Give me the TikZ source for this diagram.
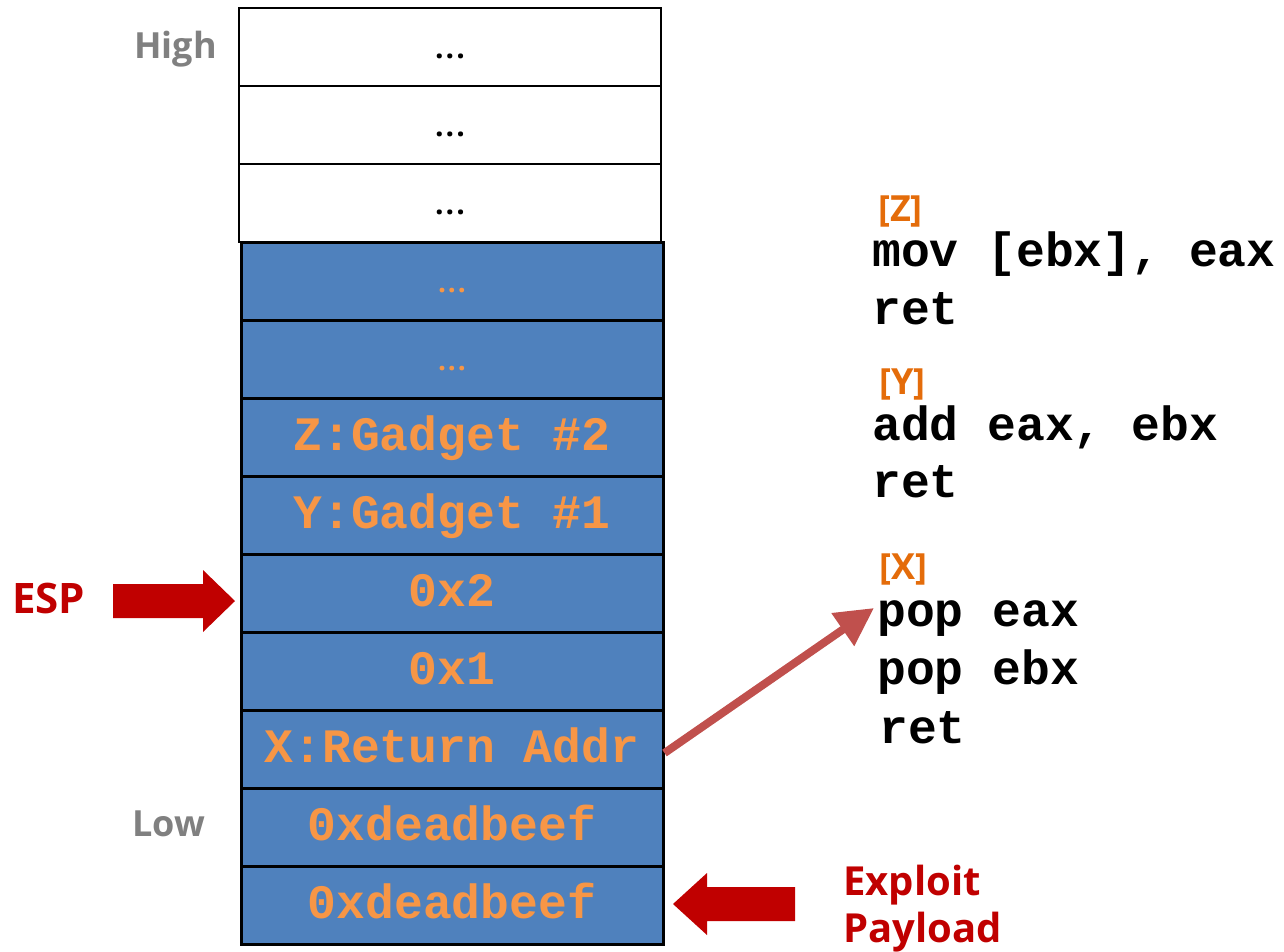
\documentclass[tikz,border=0pt]{standalone}
\usepackage{fontspec}
\setmainfont{Open Sans}
\newfontfamily\codefont{Liberation Mono}
\usetikzlibrary{arrows.meta}
\definecolor{cellblue}{HTML}{4F81BD}
\definecolor{cellorange}{HTML}{F79646}
\definecolor{tagorange}{HTML}{E46C0A}
\definecolor{darkred}{HTML}{C00000}
\definecolor{linkred}{HTML}{C0504D}
\definecolor{labelgrey}{HTML}{808080}
\begin{document}
\begin{tikzpicture}[x=1pt,y=-1pt,
  whitecell/.style={draw=black,line width=2.5pt,fill=white,minimum width=422pt,minimum height=78pt,inner sep=0pt,
    font=\fontsize{30}{32}\selectfont\bfseries,text height=22pt,text depth=0pt},
  bluecell/.style={draw=black,line width=3pt,fill=cellblue,minimum width=422pt,minimum height=78pt,inner sep=0pt,
    text=cellorange,font=\codefont\fontsize{48}{50}\selectfont\bfseries,text height=27pt,text depth=0pt},
  bluedots/.style={bluecell,font=\fontsize{28}{32}\selectfont\bfseries,text height=22pt},
  code/.style={anchor=base west,inner sep=0pt,font=\codefont\fontsize{48}{50}\selectfont\bfseries},
  tag/.style={anchor=base west,inner sep=0pt,text=tagorange,font=\fontsize{36}{40}\selectfont\bfseries},
  side/.style={anchor=base west,inner sep=0pt,text=labelgrey,font=\fontsize{36}{40}\selectfont\bfseries},
  redlabel/.style={anchor=base west,inner sep=0pt,text=darkred,font=\fontsize{40}{46}\selectfont\bfseries},
  link/.style={draw=linkred,line width=8pt,-{Triangle[length=38pt,width=38pt]}}
]
\useasboundingbox (0,0) rectangle (1284,951);

% white rows
\node[whitecell] (r1) at (450,47) {.\kern2pt.\kern2pt.};
\node[whitecell] (r2) at (450,125) {.\kern2pt.\kern2pt.};
\node[whitecell] (r3) at (450,203) {.\kern2pt.\kern2pt.};
% blue rows
\node[bluedots] (r4) at (452,281) {.\kern2pt.\kern2pt.};
\node[bluedots] (r5) at (452,359) {.\kern2pt.\kern2pt.};
\node[bluecell] (r6) at (452,437) {Z:Gadget \#2};
\node[bluecell] (r7) at (452,515) {Y:Gadget \#1};
\node[bluecell] (r8) at (452,593) {0x2};
\node[bluecell] (r9) at (452,671) {0x1};
\node[bluecell] (r10) at (452,749) {X:Return Addr};
\node[bluecell] (r11) at (452,827) {0xdeadbeef};
\node[bluecell] (r12) at (452,905) {0xdeadbeef};

% side labels
\node[side] (high) at (134,58) {High};
\node[side] (low) at (132,836) {Low};
\node[redlabel,font=\fontsize{42}{46}\selectfont\bfseries] (esp) at (12,613) {ESP};
\node[redlabel] (exploit) at (843,895) {Exploit};
\node[redlabel] (payload) at (843,942) {Payload};

% block arrows
\fill[darkred] (113,584) -- (203,584) -- (203,570) -- (235,601) -- (203,632) -- (203,618) -- (113,618) -- cycle;
\fill[darkred] (795,887) -- (707,887) -- (707,873) -- (673,904) -- (707,935) -- (707,921) -- (795,921) -- cycle;

% gadgets
\node[tag] (tz) at (878,221) {[Z]};
\node[code] (z1) at (872,266) {mov [ebx], eax};
\node[code] (z2) at (872,324) {ret};
\node[tag] (ty) at (879,394) {[Y]};
\node[code] (y1) at (872,440) {add eax, ebx};
\node[code] (y2) at (872,497) {ret};
\node[tag] (tx) at (879,579) {[X]};
\node[code] (x1) at (877,626) {pop eax};
\node[code] (x2) at (877,684) {pop ebx};
\node[code] (x3) at (879,743) {ret};

\coordinate (tipX) at (874,608);
\draw[link] ([yshift=-4pt]r10.east) -- (tipX);
\end{tikzpicture}
\end{document}
